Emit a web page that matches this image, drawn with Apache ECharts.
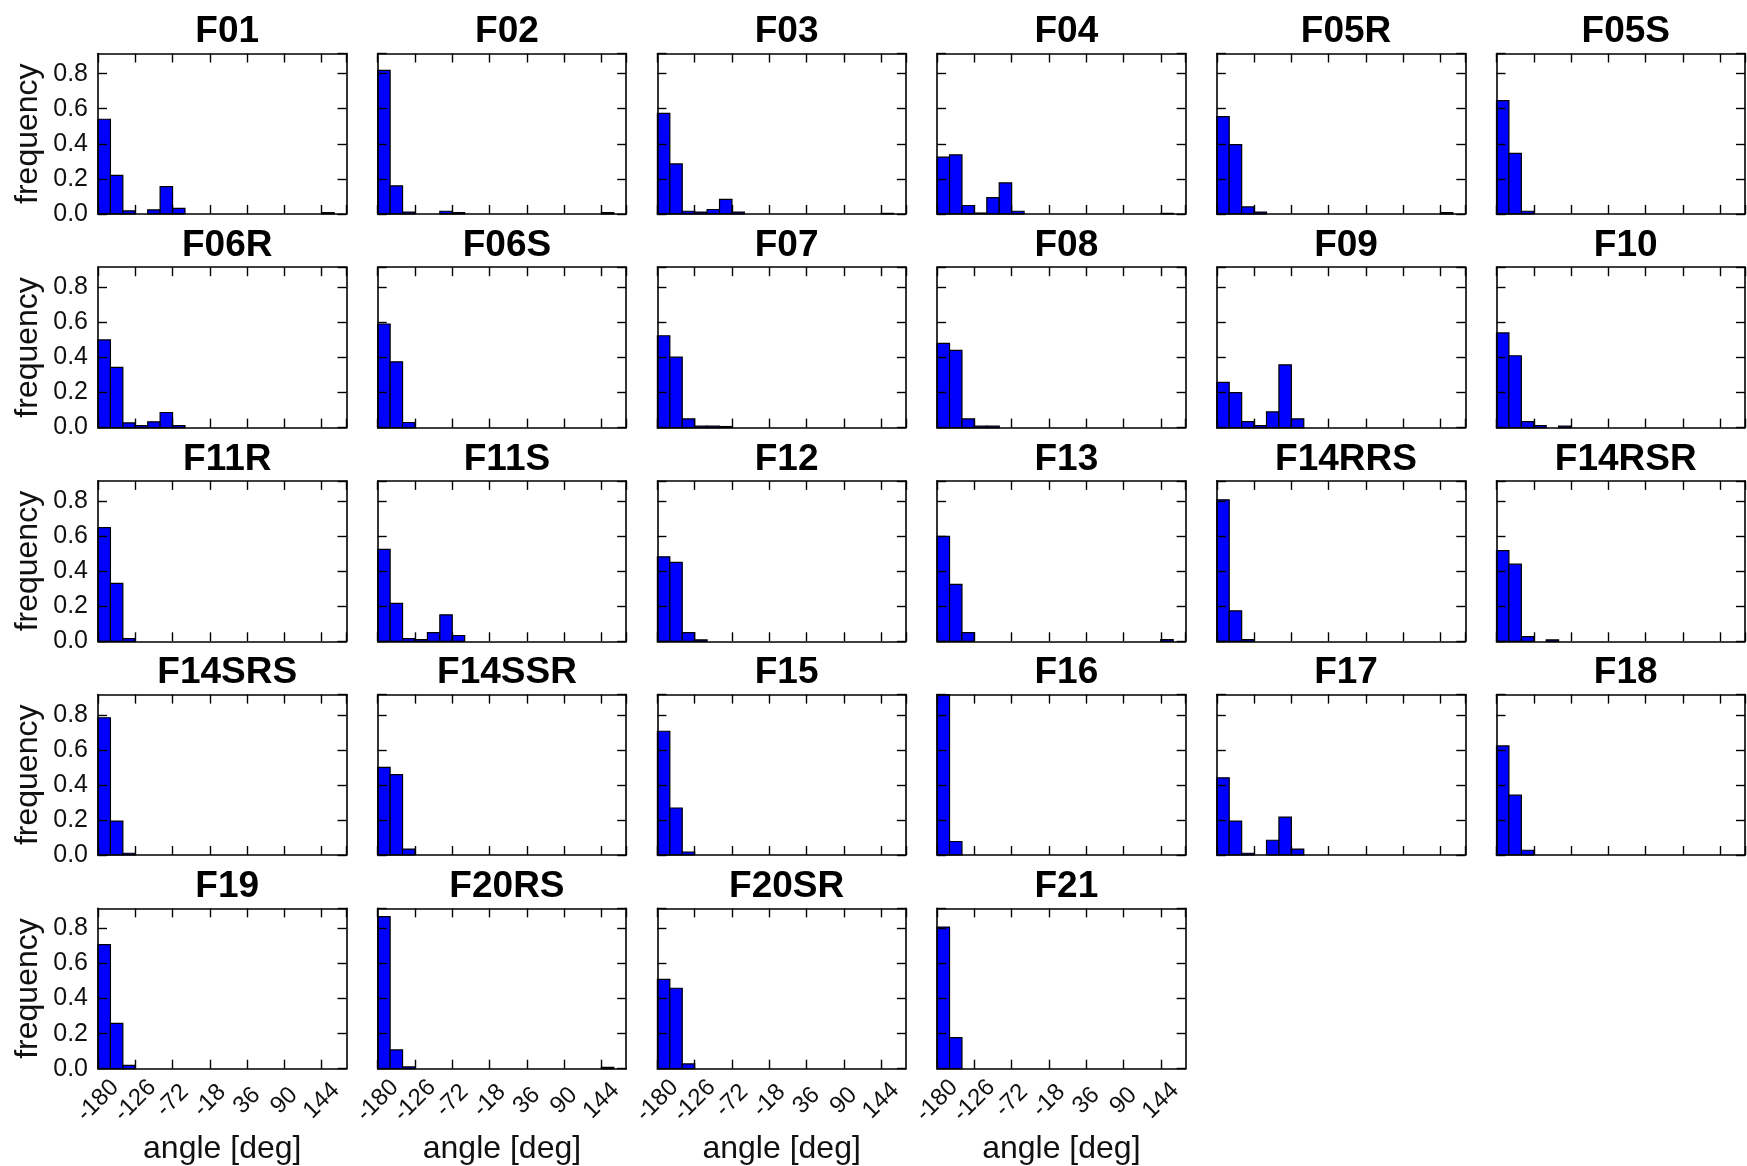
<!DOCTYPE html>
<html>
<head>
<meta charset="utf-8">
<script src="https://cdn.jsdelivr.net/npm/echarts@6/dist/echarts.min.js"></script>
<style>
html,body{margin:0;padding:0;background:#fff;}
#chart{width:1747px;height:1166px;}
</style>
</head>
<body>
<div id="chart"></div>
<script>
// ---- data ----
const panelNames = ['F01','F02','F03','F04','F05R','F05S',
  'F06R','F06S','F07','F08','F09','F10',
  'F11R','F11S','F12','F13','F14RRS','F14RSR',
  'F14SRS','F14SSR','F15','F16','F17','F18',
  'F19','F20RS','F20SR','F21'];

// histogram bins: 20 bins of 18 deg from -180 to 180
const binStart = -180;
const binWidth = 18;
const xTickValues = [-180, -126, -72, -18, 36, 90, 144];
const yTickValues = [0.0, 0.2, 0.4, 0.6, 0.8];
const yMax = 0.915;

const F01    = [0.540,0.220,0.017,0,0.023,0.156,0.031,0,0,0,0,0,0,0,0,0,0,0,0.008,0];
const F02    = [0.819,0.160,0.010,0,0,0.015,0.008,0,0,0,0,0,0,0,0,0,0,0,0.008,0];
const F03    = [0.574,0.285,0.015,0.010,0.025,0.083,0.010,0,0,0,0,0,0,0,0,0,0,0,0.003,0];
const F04    = [0.324,0.337,0.048,0.005,0.093,0.177,0.015,0,0,0,0,0,0,0,0,0,0,0,0.003,0];
const F05R   = [0.555,0.395,0.040,0.010,0,0,0,0,0,0,0,0,0,0,0,0,0,0,0.008,0];
const F05S   = [0.646,0.345,0.015,0,0,0,0,0,0,0,0,0,0,0,0,0,0,0,0,0];
const F06R   = [0.500,0.344,0.027,0.011,0.033,0.086,0.011,0,0,0,0,0,0,0,0,0,0,0,0,0];
const F06S   = [0.591,0.375,0.029,0,0,0,0,0,0,0,0,0,0,0,0,0,0,0,0,0];
const F07    = [0.524,0.402,0.050,0.008,0.008,0.006,0,0,0,0,0,0,0,0,0,0,0,0,0,0];
const F08    = [0.480,0.440,0.050,0.008,0.008,0,0,0,0,0,0,0,0,0,0,0,0,0,0,0];
const F09    = [0.258,0.199,0.034,0.011,0.090,0.358,0.050,0,0,0,0,0,0,0,0,0,0,0,0,0];
const F10    = [0.540,0.410,0.034,0.011,0,0.008,0,0,0,0,0,0,0,0,0,0,0,0,0,0];
const F11R   = [0.649,0.331,0.015,0,0,0,0,0,0,0,0,0,0,0,0,0,0,0,0,0];
const F11S   = [0.524,0.216,0.015,0.010,0.050,0.151,0.033,0,0,0,0,0,0,0,0,0,0,0,0,0];
const F12    = [0.482,0.450,0.050,0.008,0,0,0,0,0,0,0,0,0,0,0,0,0,0,0,0];
const F13    = [0.599,0.325,0.050,0,0,0,0,0,0,0,0,0,0,0,0,0,0,0,0.010,0];
const F14RRS = [0.807,0.174,0.010,0,0,0,0,0,0,0,0,0,0,0,0,0,0,0,0,0];
const F14RSR = [0.517,0.440,0.027,0,0.008,0,0,0,0,0,0,0,0,0,0,0,0,0,0,0];
const F14SRS = [0.783,0.193,0.010,0,0,0,0,0,0,0,0,0,0,0,0,0,0,0,0,0];
const F14SSR = [0.500,0.459,0.034,0,0,0,0,0,0,0,0,0,0,0,0,0,0,0,0,0];
const F15    = [0.706,0.268,0.017,0,0,0,0,0,0,0,0,0,0,0,0,0,0,0,0,0];
const F16    = [0.915,0.077,0,0,0,0,0,0,0,0,0,0,0,0,0,0,0,0,0,0];
const F17    = [0.440,0.193,0.010,0,0.084,0.216,0.034,0,0,0,0,0,0,0,0,0,0,0,0,0];
const F18    = [0.622,0.341,0.027,0,0,0,0,0,0,0,0,0,0,0,0,0,0,0,0,0];
const F19    = [0.708,0.259,0.019,0,0,0,0,0,0,0,0,0,0,0,0,0,0,0,0,0];
const F20RS  = [0.867,0.107,0.010,0,0,0,0,0,0,0,0,0,0,0,0,0,0,0,0.008,0];
const F20SR  = [0.510,0.459,0.027,0,0,0,0,0,0,0,0,0,0,0,0,0,0,0,0,0];
const F21    = [0.808,0.177,0,0,0,0,0,0,0,0,0,0,0,0,0,0,0,0,0,0];

const panelValues = [F01,F02,F03,F04,F05R,F05S,F06R,F06S,F07,F08,F09,F10,
  F11R,F11S,F12,F13,F14RRS,F14RSR,F14SRS,F14SSR,F15,F16,F17,F18,F19,F20RS,F20SR,F21];

// ---- layout ----
const FONT = "'Liberation Sans', Arial, Helvetica, sans-serif";
const NCOL = 6;
const gridLeft0 = 98, gridTop0 = 53.5;
const colPitch = 279.7, rowPitch = 213.7;
const gridW = 248.5, gridH = 160.4;

const grids = [], xAxes = [], yAxes = [], titles = [], series = [];
function mkLine() { return {show: true, onZero: false, lineStyle: {color: '#000', width: 1.6}}; }
function mkTick() { return {show: true, inside: true, length: 9, lineStyle: {color: '#000', width: 1.4}}; }

panelNames.forEach((name, i) => {
  const r = Math.floor(i / NCOL), c = i % NCOL;
  const left = gridLeft0 + c * colPitch;
  const top = gridTop0 + r * rowPitch;
  grids.push({left: left, top: top, width: gridW, height: gridH, containLabel: false});
  const showX = (r === 4);
  const showY = (c === 0);
  titles.push({
    text: name, left: left + gridW / 2, top: top - 45, textAlign: 'center',
    textStyle: {fontFamily: FONT, fontWeight: 'bold', fontSize: 37, color: '#000'}
  });
  // bottom x
  xAxes.push({
    gridIndex: i, type: 'value', position: 'bottom', z: 5,
    min: xTickValues[0], max: 180, interval: 54,
    axisLine: mkLine(), axisTick: mkTick(), splitLine: {show: false},
    axisLabel: {show: showX, rotate: 45, align: 'center', verticalAlign: 'middle', margin: 32,
      showMaxLabel: false, fontFamily: FONT, fontSize: 24, color: '#111',
      formatter: v => xTickValues.indexOf(v) >= 0 ? String(v) : ''},
    name: showX ? 'angle [deg]' : '', nameLocation: 'middle', nameGap: 64,
    nameTextStyle: {fontFamily: FONT, fontSize: 32, color: '#111'}
  });
  // top x (ticks only)
  xAxes.push({
    gridIndex: i, type: 'value', position: 'top', z: 5,
    min: xTickValues[0], max: 180, interval: 54,
    axisLine: mkLine(), axisTick: mkTick(), splitLine: {show: false}, axisLabel: {show: false}
  });
  // left y
  yAxes.push({
    gridIndex: i, type: 'value', position: 'left', z: 5,
    min: yTickValues[0], max: yMax, interval: 0.2,
    axisLine: mkLine(), axisTick: mkTick(), splitLine: {show: false},
    axisLabel: {show: showY, margin: 10, showMaxLabel: false, fontFamily: FONT, fontSize: 25, color: '#111',
      formatter: v => v.toFixed(1)},
    name: showY ? 'frequency' : '', nameLocation: 'middle', nameGap: 54,
    nameTextStyle: {fontFamily: FONT, fontSize: 32, color: '#111'}
  });
  // right y (ticks only)
  yAxes.push({
    gridIndex: i, type: 'value', position: 'right', z: 5,
    min: yTickValues[0], max: yMax, interval: 0.2,
    axisLine: mkLine(), axisTick: mkTick(), splitLine: {show: false}, axisLabel: {show: false}
  });
  const data = panelValues[i].map((v, k) => [binStart + k * binWidth, binStart + (k + 1) * binWidth, v]);
  series.push({
    type: 'custom', xAxisIndex: 2 * i, yAxisIndex: 2 * i, z: 2,
    encode: {x: [0, 1], y: 2},
    data: data,
    renderItem: function (params, api) {
      const x0 = api.value(0), x1 = api.value(1), v = api.value(2);
      if (!(v > 0)) return null;
      const p0 = api.coord([x0, 0]);
      const p1 = api.coord([x1, v]);
      return {
        type: 'rect',
        shape: {x: p0[0], y: p1[1], width: p1[0] - p0[0], height: p0[1] - p1[1]},
        style: {fill: '#0000ff', stroke: '#000', lineWidth: 1.2}
      };
    },
    silent: true, animation: false
  });
});

const chart = echarts.init(document.getElementById('chart'), null, {renderer: 'canvas'});
chart.setOption({
  backgroundColor: '#fff',
  animation: false,
  title: titles,
  grid: grids,
  xAxis: xAxes,
  yAxis: yAxes,
  series: series
});
</script>
</body>
</html>
